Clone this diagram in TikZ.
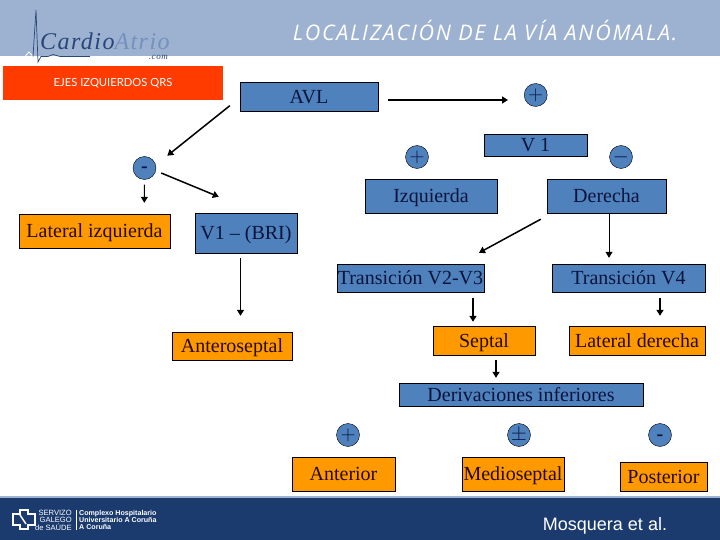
\documentclass[tikz,border=0pt]{standalone}
\usepackage{fontspec}
\setmainfont{Liberation Serif}
\newfontfamily\titlefont[LetterSpace=8]{Open Sans}
\newfontfamily\ejesfont{Lato}
\newfontfamily\logofont[LetterSpace=6]{Liberation Serif}
\newfontfamily\footfont{Liberation Sans}
\usepackage{xcolor}
\usetikzlibrary{arrows.meta}
\definecolor{headblue}{RGB}{157, 177, 209}
\definecolor{footblue}{RGB}{27, 59, 111}
\definecolor{redband}{RGB}{255, 59, 0}
\definecolor{boxblue}{RGB}{79, 129, 189}
\definecolor{boxorange}{RGB}{255, 153, 0}
\definecolor{inkblue}{RGB}{10, 20, 60}
\definecolor{inkbrown}{RGB}{40, 10, 0}
\definecolor{logoblue}{RGB}{40, 70, 120}
\definecolor{logopale}{RGB}{115, 145, 190}
\tikzset{
  blueBox/.style={draw=black, fill=boxblue, text=inkblue, inner sep=0pt, text height=16.5pt, text depth=3pt, font=\fontsize{20}{24}\selectfont},
  orangeBox/.style={draw=black, fill=boxorange, text=inkbrown, inner sep=0pt, text height=16.5pt, text depth=3pt, font=\fontsize{20}{24}\selectfont},
  signDot/.style={circle, draw=black, fill=boxblue, text=inkblue, minimum size=23pt, inner sep=0pt, font=\fontsize{20}{24}\selectfont},
  arrowLine/.style={black, line width=1.5pt, -{Triangle[length=6pt,width=7pt]}},
  thinArrow/.style={black, line width=1pt, -{Triangle[length=6pt,width=7pt]}}
}
\begin{document}
\begin{tikzpicture}[x=1pt,y=-1pt]
  \useasboundingbox (0,0) rectangle (720,540);
  % Header and footer bands
  \fill[headblue] (0,0) rectangle (720,56.5);
  \fill[footblue] (0,496) rectangle (720,540);
  \fill[headblue] (0,496) rectangle (720,498);
  \node[text=white, font=\titlefont\itshape\fontsize{21.5}{24}\selectfont] (title) at (485,30) {LOCALIZACIÓN DE LA VÍA ANÓMALA.};
  % Logo
  \draw[white, line width=0.8pt] (14,56.5) -- (25,56.5) -- (29,52) -- (33,56.5);
  \draw[logoblue, line width=0.7pt] (33,56.5) -- (36,10) -- (38,62) -- (41,56.5) -- (48,56.5) -- (53,54.5) -- (60,56.5) -- (90,56.5);
  \node[anchor=base west, inner sep=0pt, text=logoblue, font=\logofont\itshape\fontsize{24}{28}\selectfont] (logo) at (40,50) {Cardio\textcolor{logopale}{Atrio}};
  \node[anchor=base east, inner sep=0pt, text=logoblue, font=\logofont\itshape\fontsize{9}{10}\selectfont] (logocom) at (168,60) {.com};
  % Red band
  \node[fill=redband, text=white, minimum width=220pt, minimum height=34pt, inner sep=0pt, font=\ejesfont\fontsize{11.2}{14}\selectfont] (ejes) at (113,83) {\raisebox{2pt}{EJES IZQUIERDOS QRS}};
  % Boxes
  \node[blueBox, minimum width=138pt, minimum height=29pt] (avl) at (309,96.5) {AVL};
  \node[blueBox, minimum width=103pt, minimum height=22pt] (vone) at (535.5,145) {V 1};
  \node[blueBox, minimum width=132pt, minimum height=34pt] (izq) at (431,196) {Izquierda};
  \node[blueBox, minimum width=119pt, minimum height=34pt] (der) at (606.5,196) {Derecha};
  \node[orangeBox, minimum width=151pt, minimum height=34pt] (latizq) at (94.5,231) {Lateral izquierda};
  \node[blueBox, minimum width=102pt, minimum height=40pt] (bri) at (246,233) {V1 – (BRI)};
  \node[blueBox, minimum width=147pt, minimum height=28pt] (trandos) at (410.5,278) {Transición V2-V3};
  \node[blueBox, minimum width=153pt, minimum height=28pt] (trancuatro) at (628.5,278) {Transición V4};
  \node[orangeBox, minimum width=120pt, minimum height=28pt] (antsep) at (232,346) {Anteroseptal};
  \node[orangeBox, minimum width=102pt, minimum height=29pt] (septal) at (484,340.5) {Septal};
  \node[orangeBox, minimum width=136pt, minimum height=29pt] (latder) at (637,340.5) {Lateral derecha};
  \node[blueBox, minimum width=244pt, minimum height=23pt] (deriv) at (521,394.5) {Derivaciones inferiores};
  \node[orangeBox, minimum width=103pt, minimum height=34pt] (anterior) at (343.5,474) {Anterior};
  \node[orangeBox, minimum width=102pt, minimum height=34pt] (medio) at (513,474) {Medioseptal};
  \node[orangeBox, minimum width=87pt, minimum height=29pt] (post) at (663.5,476.5) {Posterior};
  % Sign dots
  \foreach \name/\x/\y/\sign in {plusavl/535.7/95/$+$, plusizq/417/157/$+$, minusder/621/157/$-$, minusavl/144.5/168/\raisebox{-5pt}[0pt][0pt]{\bfseries -}, plusinf/348/435/$+$, pminf/519/435/$\pm$, minusinf/660/435/\raisebox{-5pt}[0pt][0pt]{\bfseries -}} {
    \node[signDot] (\name) at (\x,\y) {\sign};
  }
  % Arrows
  \draw[arrowLine] ([shift={(-10,-5.5)}]avl.south west) -- ([shift={(14.5,-4)}]minusavl.north east);
  \draw[arrowLine] ([shift={(10,3.5)}]avl.east) -- ([shift={(-16,5)}]plusavl.west);
  \draw[arrowLine] ([shift={(5,5)}]minusavl.east) -- ([shift={(24,-16)}]bri.north west);
  \draw[thinArrow] ([shift={(0,5)}]minusavl.south) -- ([shift={(125.5,-11)}]latizq.north west);
  \draw[arrowLine] ([shift={(-5.5,5)}]bri.south) -- ([shift={(8.5,-16)}]antsep.north);
  \draw[arrowLine] ([shift={(-6,6)}]der.south west) -- ([shift={(68.5,-11)}]trandos.north);
  \draw[thinArrow] ([shift={(2.5,0)}]der.south) -- ([shift={(-19.5,-6)}]trancuatro.north);
  \draw[arrowLine] ([shift={(62.5,6)}]trandos.south) -- ([shift={(-11,-4)}]septal.north);
  \draw[arrowLine] ([shift={(31.5,6)}]trancuatro.south) -- ([shift={(23,-10)}]latder.north);
  \draw[arrowLine] ([shift={(12,5)}]septal.south) -- ([shift={(-25,-5)}]deriv.north);
  % Footer text
  \draw[white, line width=1.8pt] (20,510) -- (28,510) -- (28,514) -- (35,514) -- (35,525) -- (28,525) -- (28,529) -- (20,529) -- (20,525) -- (13,525) -- (13,514) -- (20,514) -- cycle;
  \draw[white, line width=1.4pt] (20,515) -- (26,524);
  \node[align=right, anchor=east, inner sep=0pt, text=white, font=\footfont\fontsize{7.6}{7.4}\selectfont] (sergas) at (72,520) {SERVIZO\\GALEGO\\de SAÚDE};
  \draw[white, line width=1pt] (76,510) -- (76,530);
  \node[align=left, anchor=west, inner sep=0pt, text=white, font=\footfont\bfseries\fontsize{7.1}{7.2}\selectfont] (chuac) at (79,520) {Complexo Hospitalario\\Universitario A Coruña\\A Coruña};
  \node[text=white, inner sep=0pt, font=\footfont\fontsize{18}{20}\selectfont] (autor) at (605,526) {Mosquera et al.};
\end{tikzpicture}
\end{document}
